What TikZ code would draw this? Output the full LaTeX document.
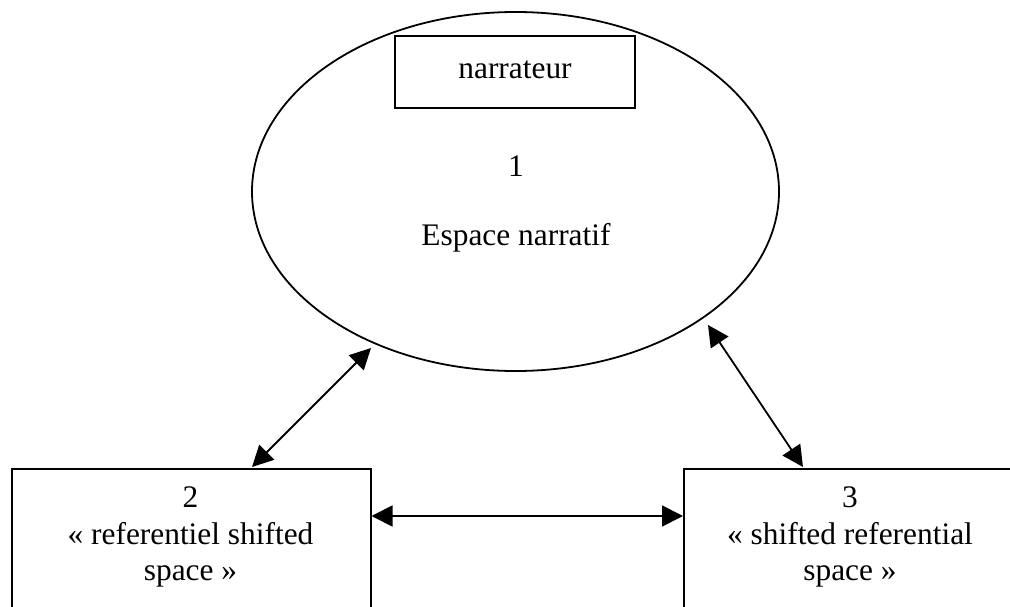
\documentclass[tikz,border=0pt]{standalone}
\usepackage{fontspec}
\setmainfont{Liberation Serif}
\usetikzlibrary{shapes.geometric,arrows.meta}
\begin{document}
\begin{tikzpicture}[x=1bp,y=-1bp,
  line width=1.8bp,
  txt/.style={font=\fontsize{31.5}{36.5}\selectfont, inner sep=0pt, align=center},
  boxshape/.style={draw, rectangle, inner sep=0pt},
  link/.style={{Triangle[length=21bp,width=21bp]}-{Triangle[length=21bp,width=21bp]}, line width=1.8bp}]
\useasboundingbox (0,0) rectangle (1010,607);
\fill[white] (0,0) rectangle (1010,607);
% ellipse
\node[draw, ellipse, inner sep=0pt, minimum width=527bp, minimum height=359bp] (ell) at (515.5,191.5) {};
\node[boxshape, minimum width=240bp, minimum height=72bp] (narr) at (515,72) {};
\node[txt] (narrt) at (515,70) {narrateur};
\node[txt] (one) at (516,166) {1};
\node[txt] (esp) at (516,238) {Espace narratif};
% boxes
\node[boxshape, minimum width=359bp, minimum height=240bp, anchor=north west] (b2) at (11,468) {};
\node[boxshape, minimum width=334bp, minimum height=240bp, anchor=north west] (b3) at (683,468) {};
\node[txt, anchor=north] (t2) at (190.5,486) {2\\« referentiel shifted\\space »};
\node[txt, anchor=north] (t3) at (850,486) {3\\« shifted referential\\space »};
% connectors
\coordinate (a1) at (371,348);
\coordinate (a2) at (252,467);
\coordinate (c1) at (708,325);
\coordinate (c2) at (803,467);
\coordinate (h1) at (371.5,516);
\coordinate (h2) at (683,516);
\draw[link] (a1) -- (a2);
\draw[link] (c1) -- (c2);
\draw[link] (h1) -- (h2);
\end{tikzpicture}
\end{document}
